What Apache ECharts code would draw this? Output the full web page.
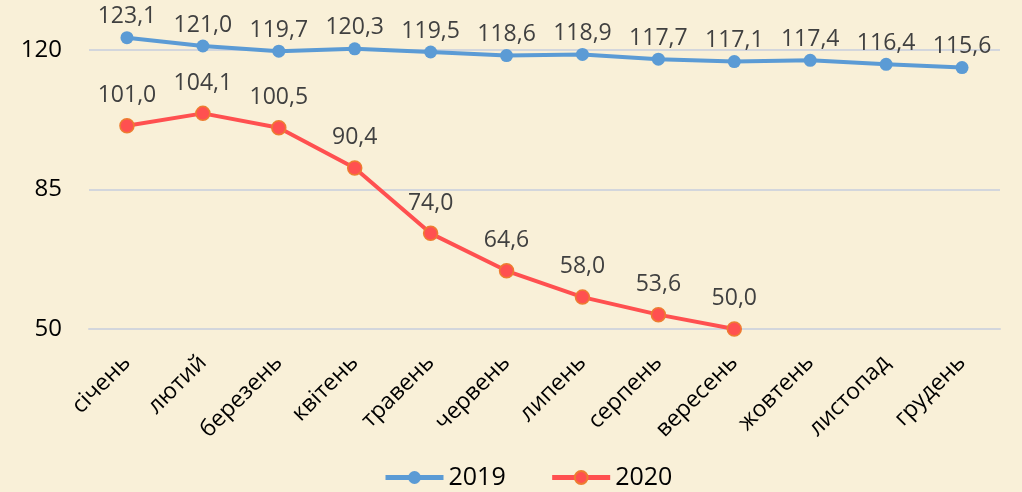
<!DOCTYPE html>
<html>
<head>
<meta charset="utf-8">
<script src="https://cdn.jsdelivr.net/npm/echarts@6/dist/echarts.min.js"></script>
<style>
  html, body { margin: 0; padding: 0; }
  #chart { width: 1022px; height: 492px; background: #f9f0d8; }
</style>
</head>
<body>
<div id="chart"></div>
<script>
let chart = echarts.init(document.getElementById('chart'));

// місяці
let months = ['січень', 'лютий', 'березень', 'квітень', 'травень', 'червень', 'липень', 'серпень', 'вересень', 'жовтень', 'листопад', 'грудень'];
let data_2019 = [123.1, 121.0, 119.7, 120.3, 119.5, 118.6, 118.9, 117.7, 117.1, 117.4, 116.4, 115.6];
let data_2020 = [101.0, 104.1, 100.5, 90.4, 74.0, 64.6, 58.0, 53.6, 50.0];
let series_names = ['2019', '2020'];

let font = '"Open Sans", "Noto Sans", sans-serif';

function fmt(p) {
    return p.value.toFixed(1).replace('.', ',');
}

let option = {
    textStyle: { fontFamily: font },
    animation: false,
    grid: { left: 89, right: 22, top: 50, bottom: 163 },
    legend: {
        data: series_names,
        bottom: 0,
        left: 383,
        padding: [0, 0, 2, 0],
        itemWidth: 58,
        itemHeight: 16,
        itemGap: 44,
        textStyle: { fontSize: 25, color: '#000', fontFamily: font },
        lineStyle: { width: 5 }
    },
    xAxis: {
        type: 'category',
        data: months,
        boundaryGap: true,
        axisLine: { lineStyle: { color: '#d3d6dc', width: 2 } },
        axisTick: { show: false },
        axisLabel: {
            rotate: 45,
            interval: 0,
            margin: 30,
            fontSize: 23,
            color: '#000',
            fontFamily: font
        }
    },
    yAxis: {
        type: 'value',
        min: 50,
        max: 120,
        interval: 35,
        axisLine: { show: false },
        axisTick: { show: false },
        axisLabel: { fontSize: 24, color: '#000', margin: 27, fontFamily: font },
        splitLine: { lineStyle: { color: '#d3d6dc', width: 2 } }
    },
    series: [
        {
            name: '2019',
            type: 'line',
            data: data_2019,
            clip: false,
            symbol: 'circle',
            symbolSize: 13,
            itemStyle: { color: '#5b9bd5' },
            lineStyle: { color: '#5b9bd5', width: 4 },
            label: {
                show: true,
                position: 'top',
                distance: 3,
                fontSize: 23,
                color: '#404040',
                formatter: fmt
            }
        },
        {
            name: '2020',
            type: 'line',
            data: data_2020,
            clip: false,
            symbol: 'circle',
            symbolSize: 14,
            itemStyle: { color: '#ff5050', borderColor: '#ed7d31', borderWidth: 1.5 },
            lineStyle: { color: '#ff5050', width: 4 },
            label: {
                show: true,
                position: 'top',
                distance: 11,
                fontSize: 23,
                color: '#404040',
                formatter: fmt
            }
        }
    ]
};

chart.setOption(option);
</script>
</body>
</html>
